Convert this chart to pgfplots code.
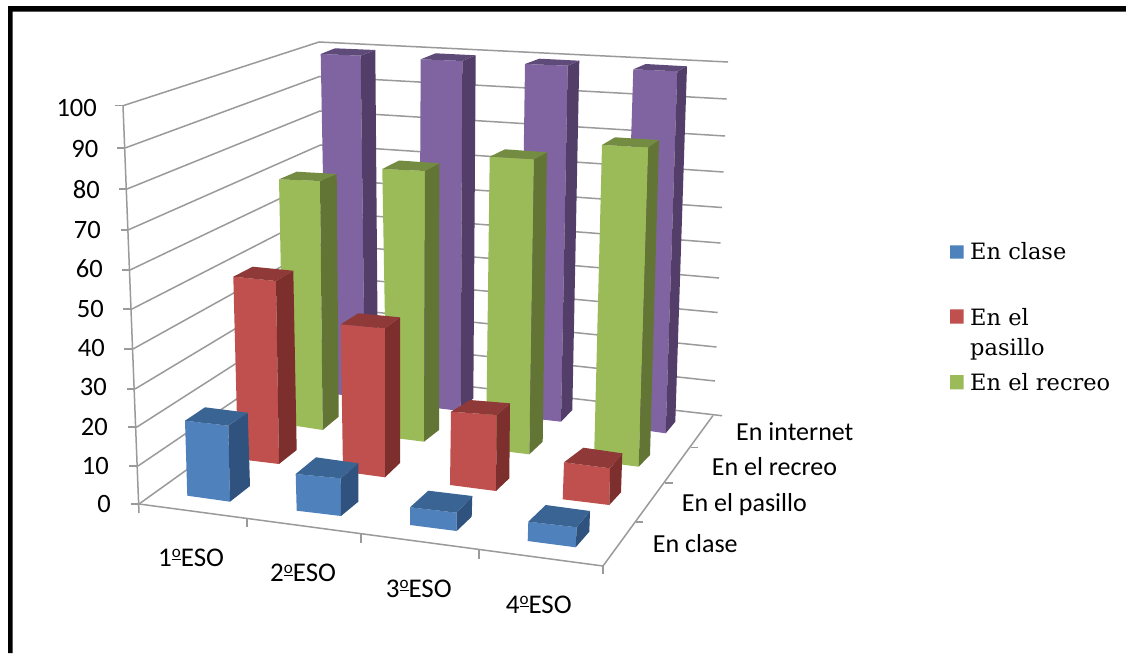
\documentclass[border=0pt]{standalone}
\usepackage{fontspec}
\usepackage{pgfplots}
\pgfplotsset{compat=1.18}
\newfontfamily\calibri{Carlito}
\newfontfamily\cambria{DejaVu Serif}

\definecolor{bluef}{HTML}{4F81BD}\definecolor{blues}{HTML}{30527E}\definecolor{bluet}{HTML}{3A6494}
\definecolor{redf}{HTML}{C0504D}\definecolor{reds}{HTML}{7D2F2D}\definecolor{redt}{HTML}{8F3A38}
\definecolor{greenf}{HTML}{9BBB59}\definecolor{greens}{HTML}{637534}\definecolor{greent}{HTML}{748C41}
\definecolor{purplef}{HTML}{8064A2}\definecolor{purples}{HTML}{533E69}\definecolor{purplet}{HTML}{5F4B7A}
\definecolor{wall}{HTML}{9A9A9A}

% The 3D look is a perspective view, so the faces are kept in picture coordinates.
% #1 colour stem, then the corners: front-top-left, front-top-right, back-top-right,
% back-top-left, front-bottom-left, front-bottom-right, back-bottom-right
\newcommand{\cuboid}[8]{%
  \addplot[draw=none,fill=#1f] coordinates {#2 #3 #7 #6 #2};
  \addplot[draw=none,fill=#1s] coordinates {#3 #4 #8 #7 #3};
  \addplot[draw=none,fill=#1t] coordinates {#2 #3 #4 #5 #2};
}
\newcommand{\grid}[3]{\addplot[wall,line width=1.5pt] coordinates {#1 #2 #3};}
\newcommand{\tk}[2]{\addplot[wall,line width=1.5pt] coordinates {#1 #2};}
\newcommand{\val}[3]{\node[anchor=base east,inner sep=0pt,font=\calibri\fontsize{26.5}{30}\selectfont] at (axis cs:#1,#2) {#3};}
\newcommand{\cat}[3]{\node[anchor=base west,inner sep=0pt,font=\calibri\fontsize{26}{30}\selectfont] at (axis cs:#1,#2) {#3};}
\newcommand{\leg}[3]{\node[anchor=base west,inner sep=0pt,font=\cambria\fontsize{22.5}{30}\selectfont] at (axis cs:#1,#2) {#3};}
% ordinal sign with its bar, as Calibri draws it
\newcommand{\ordm}{\raisebox{0.3em}{\fontsize{17}{17}\selectfont\underline{o}}}
\newcommand{\eso}[3]{\node[anchor=base west,inner sep=0pt,font=\calibri\fontsize{27}{30}\selectfont] at (axis cs:#1,#2) {#3\ordm ESO};}

\begin{document}
\begin{tikzpicture}
\begin{axis}[
  hide axis, scale only axis, width=1126pt, height=653pt,
  xmin=0, xmax=1126, ymin=0, ymax=653, y dir=reverse,
  clip=true]

% page and frame
\addplot[draw=none,fill=white] coordinates {(0,0) (1126,0) (1126,653) (0,653) (0,0)};
\addplot[draw=none,fill=black] coordinates {(8,6) (1126,6) (1126,11.5) (8,11.5) (8,6)};
\addplot[draw=none,fill=black] coordinates {(8,6) (12.5,6) (12.5,653) (8,653) (8,6)};

% walls, value 100 down to 0
\grid{(123,105.7)}{(319,42)}{(728,62)}
\grid{(125,148)}{(319.5,76.5)}{(726.7,99)}
\grid{(127,189)}{(320,111)}{(725,136)}
\grid{(128,230)}{(320.5,145)}{(723.5,172)}
\grid{(130,270)}{(321,179)}{(722,207.5)}
\grid{(132,309)}{(321.5,212)}{(720.5,243)}
\grid{(133,349)}{(322,244)}{(719,278)}
\grid{(135,389)}{(323,276)}{(717.7,312.5)}
\grid{(137,427)}{(324,307)}{(716.5,347)}
\grid{(138,466)}{(325,339)}{(715,381)}
\grid{(139,504)}{(326,370)}{(722,415.7)}
% value axis and its ticks
\tk{(123,105.7)}{(139,513)}
\tk{(115,105.7)}{(123,105.7)}
\tk{(117,148)}{(125,148)}
\tk{(119,189)}{(127,189)}
\tk{(121,230)}{(128,230)}
\tk{(122,270)}{(130,270)}
\tk{(123,309)}{(132,309)}
\tk{(124,349)}{(133,349)}
\tk{(127,389)}{(135,389)}
\tk{(128,427)}{(137,427)}
\tk{(129,466)}{(138,466)}
\tk{(131,504)}{(139,504)}
% floor edges and ticks
\tk{(139,504)}{(603,566)}
\tk{(603,566)}{(713,415.5)}
\tk{(247,518)}{(247,527)}
\tk{(361,534)}{(361,543)}
\tk{(479,550)}{(479,559)}
\tk{(603,566)}{(603,574)}
\tk{(691,447.5)}{(698,447.5)}
\tk{(665,483)}{(673,483)}
\tk{(636,522)}{(643,522)}

% En internet
\cuboid{purple}{(320.7,54)}{(360.7,55.7)}{(375.3,50)}{(335,48.3)}{(327,393)}{(365,398)}{(378,385)}
\cuboid{purple}{(420.7,59.3)}{(462.3,61)}{(475.7,55.3)}{(435.7,53.3)}{(419,406)}{(460.7,411)}{(473.3,398.3)}
\cuboid{purple}{(525,64)}{(567.7,65.7)}{(579.3,60.7)}{(539.3,58.7)}{(520,417)}{(561,421.7)}{(572.3,410)}
\cuboid{purple}{(633.3,69.3)}{(677.3,71.3)}{(687,66.3)}{(645.7,64)}{(622,427)}{(665.7,433.3)}{(675.3,421.7)}
% En el recreo
\cuboid{green}{(279,179.3)}{(320,181)}{(336.7,174)}{(296.7,171.7)}{(284,424)}{(322.7,430)}{(338.7,416.7)}
\cuboid{green}{(382.3,169)}{(425,171)}{(439.3,163.3)}{(399,160.5)}{(387,437)}{(424,441.7)}{(439,430)}
\cuboid{green}{(489.7,156.7)}{(534,159.3)}{(547,152.3)}{(505,149.3)}{(486,449)}{(529.3,454.3)}{(542.7,441.7)}
\cuboid{green}{(602,145)}{(648.3,147.3)}{(659,140)}{(615,137.3)}{(594,461)}{(638.7,466.7)}{(650,455)}
% En el pasillo
\cuboid{red}{(233.3,276.7)}{(276,281)}{(293.3,270.7)}{(252.7,266.7)}{(238,459)}{(279,464)}{(296.7,450)}
\cuboid{red}{(340.7,324.3)}{(385,328.3)}{(400,317.3)}{(358.3,313.3)}{(343,471.5)}{(385,477.3)}{(400,463)}
\cuboid{red}{(451,411.7)}{(496.7,415)}{(510,403.3)}{(470,400)}{(450,485)}{(496,491)}{(509.3,478.3)}
\cuboid{red}{(564,462.3)}{(610,468.3)}{(622.3,453.3)}{(583.3,447.7)}{(562.7,499.3)}{(609.3,505)}{(621,492.3)}
% En clase
\cuboid{blue}{(185,420.7)}{(228.3,425.7)}{(247.7,412.7)}{(205,407.3)}{(187.3,495.7)}{(230,501.7)}{(250,486)}
\cuboid{blue}{(295.7,474)}{(340.7,478.3)}{(358.3,463.3)}{(316,457.3)}{(296.7,510.7)}{(341,516)}{(358.3,501.7)}
\cuboid{blue}{(410,507.3)}{(456.7,512.7)}{(472.3,496)}{(428.3,490.7)}{(410,525)}{(456.7,531)}{(471.7,516.7)}
\cuboid{blue}{(528.3,521.7)}{(576.7,527.3)}{(590,511)}{(545.7,505)}{(527.7,541)}{(575.7,547.3)}{(589.3,531.7)}

% legend swatches
\addplot[draw=none,fill=bluef] coordinates {(950,245.3) (963.7,245.3) (963.7,258.7) (950,258.7) (950,245.3)};
\addplot[draw=none,fill=redf] coordinates {(950,309.3) (963.7,309.3) (963.7,323.7) (950,323.7) (950,309.3)};
\addplot[draw=none,fill=greenf] coordinates {(950,375) (963.7,375) (963.7,389.3) (950,389.3) (950,375)};
\leg{970}{259.3}{En clase}
\leg{970}{325}{En el}
\leg{970}{355}{pasillo}
\leg{970}{390}{En el recreo}

% value labels
\val{97}{116}{100}
\val{98.5}{157.5}{90}
\val{100}{198}{80}
\val{101}{238}{70}
\val{103}{277.5}{60}
\val{104}{317}{50}
\val{105}{356}{40}
\val{107}{395}{30}
\val{108}{435}{20}
\val{109}{474}{10}
\val{111}{512}{0}

% category labels
\eso{158}{566}{1}
\eso{270}{581.7}{2}
\eso{385.7}{597}{3}
\eso{505.7}{613}{4}
\cat{652.7}{552.7}{En clase}
\cat{681.7}{511.7}{En el pasillo}
\cat{711.7}{475}{En el recreo}
\cat{736}{440}{En internet}
\end{axis}
\end{tikzpicture}
\end{document}
